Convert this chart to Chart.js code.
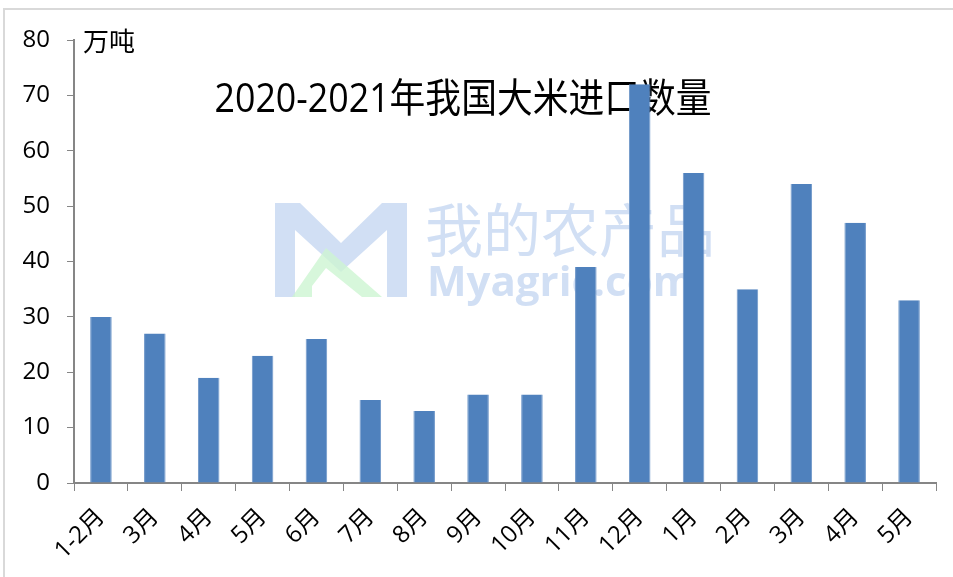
<!DOCTYPE html>
<html lang="zh">
<head>
<meta charset="UTF-8">
<title>2020-2021年我国大米进口数量</title>
<script src="https://cdn.jsdelivr.net/npm/chart.js@4.4.1/dist/chart.umd.min.js"></script>
<style>
    html, body { margin: 0; padding: 0; background: #fff; }
    .wrap { position: relative; width: 953px; height: 577px; overflow: hidden; }
    .frame {
        position: absolute; left: 3px; top: 8px; width: 980px; height: 600px;
        border-left: 2px solid #d9d9d9; border-top: 2px solid #d9d9d9;
    }
    canvas { position: absolute; left: 0; top: 0; }
</style>
</head>
<body>
<div class="wrap">
    <div class="frame"></div>
    <canvas id="chart" width="953" height="577"></canvas>
</div>
<script>
// data (万吨)
const months = ['1-2月', '3月', '4月', '5月', '6月', '7月', '8月', '9月', '10月', '11月', '12月', '1月', '2月', '3月', '4月', '5月'];
const imports = [30, 27, 19, 23, 26, 15, 13, 16, 16, 39, 72, 56, 35, 54, 47, 33];
const yTicks = [0, 10, 20, 30, 40, 50, 60, 70, 80];

const titleText = '2020-2021年我国大米进口数量';
const unitText = '万吨';
const cjk = '"Open Sans", "Noto Sans CJK SC", sans-serif';

// title, unit and watermark sit behind the bars
const backdrop = {
    id: 'backdrop',
    beforeDatasetsDraw(chart) {
        const ctx = chart.ctx;
        ctx.save();
        // watermark logo
        ctx.fillStyle = 'rgba(190, 210, 240, 0.7)';
        ctx.beginPath();
        ctx.moveTo(275, 203); ctx.lineTo(300, 203); ctx.lineTo(341, 243); ctx.lineTo(382, 203);
        ctx.lineTo(407, 203); ctx.lineTo(407, 297); ctx.lineTo(387, 297); ctx.lineTo(387, 230);
        ctx.lineTo(341, 272); ctx.lineTo(295, 230); ctx.lineTo(295, 297); ctx.lineTo(275, 297);
        ctx.closePath(); ctx.fill();
        ctx.fillStyle = 'rgba(205, 245, 210, 0.8)';
        ctx.beginPath();
        ctx.moveTo(292, 297); ctx.lineTo(326, 248); ctx.lineTo(382, 297); ctx.lineTo(362, 297);
        ctx.lineTo(326, 268); ctx.lineTo(312, 286); ctx.lineTo(312, 297);
        ctx.closePath(); ctx.fill();
        ctx.fillStyle = 'rgba(190, 210, 240, 0.7)';
        ctx.textBaseline = 'middle';
        ctx.textAlign = 'left';
        ctx.font = '58px "Noto Sans CJK SC", sans-serif';
        ctx.fillText('我的农产品', 425, 230, 292);
        ctx.font = 'bold 42px "Open Sans", sans-serif';
        ctx.fillText('Myagric.com', 427, 284, 290);

        // unit
        ctx.fillStyle = '#000';
        ctx.font = '26px "Noto Sans CJK SC", sans-serif';
        ctx.fillText(unitText, 83, 41);

        // title
        ctx.textAlign = 'center';
        ctx.font = '40px ' + cjk;
        ctx.fillText(titleText, 463, 101, 497);
        ctx.restore();
    }
};

new Chart(document.getElementById('chart'), {
    type: 'bar',
    data: {
        labels: months,
        datasets: [{
            data: imports,
            backgroundColor: '#4f81bd',
            borderColor: '#6f97c9',
            borderWidth: { left: 1, right: 1, top: 0, bottom: 0 },
            categoryPercentage: 1,
            barPercentage: 0.4
        }]
    },
    options: {
        responsive: false,
        animation: false,
        layout: { padding: { top: 40, right: 17, left: 0, bottom: 0 } },
        plugins: { legend: { display: false }, tooltip: { enabled: false } },
        scales: {
            x: {
                grid: { display: true, drawOnChartArea: false, drawTicks: true, tickLength: 8, color: '#868686', offset: true },
                border: { color: '#868686', width: 2 },
                ticks: {
                    color: '#000',
                    font: { size: 24, family: cjk },
                    maxRotation: 45, minRotation: 45,
                    padding: 12
                },
                afterFit(s) { s.height = 94; s.paddingLeft = 0; s.paddingRight = 0; }
            },
            y: {
                min: 0, max: 80,
                afterBuildTicks(s) { s.ticks = yTicks.map(v => ({ value: v })); },
                grid: { display: true, drawOnChartArea: false, tickLength: 7, color: '#868686' },
                border: { color: '#868686', width: 2 },
                ticks: {
                    color: '#000',
                    font: { size: 24, family: '"Open Sans", sans-serif' },
                    padding: 17
                },
                afterFit(s) { s.width = 74; s.paddingTop = 0; s.paddingBottom = 0; }
            }
        }
    },
    plugins: [backdrop]
});
</script>
</body>
</html>
